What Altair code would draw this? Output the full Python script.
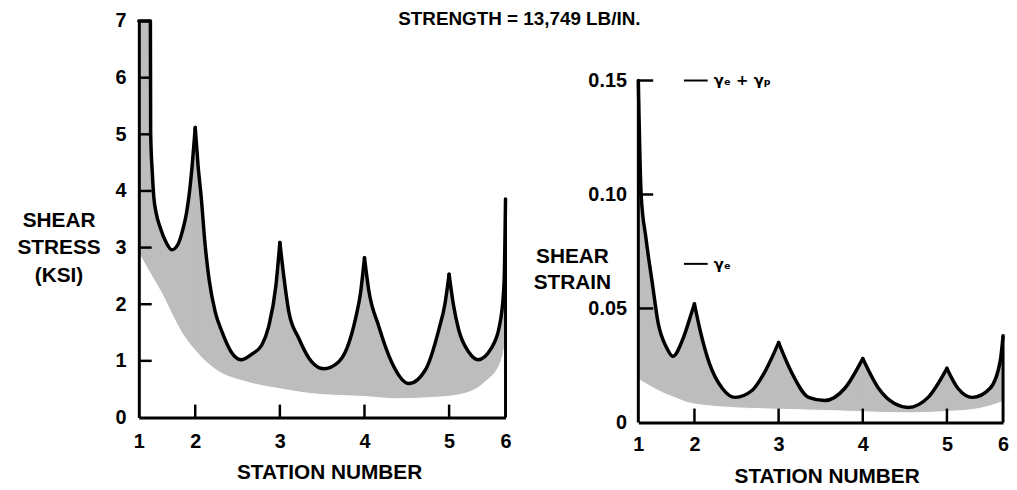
import altair as alt
import pandas as pd

# ---------------- data ----------------
STATION_POS = [0, 2, 5, 8, 11, 13]          # position along the x axis
STATION_LABELS = ["1", "2", "3", "4", "5", "6"]
INNER_STATIONS = [2, 5, 8, 11]

TITLE = "STRENGTH = 13,749 LB/IN."

# shear stress (ksi): upper curve and lower edge of the shaded band
stress_upper_x = [0, 0.41, 0.42, 0.48, 0.53, 0.62, 0.76, 0.97, 1.17, 1.38, 1.55, 1.69, 1.80, 1.90, 2.0,
                  2.1, 2.21, 2.35, 2.49, 2.71, 2.95, 3.27, 3.62, 4.01, 4.36, 4.6, 4.86, 5.0,
                  5.15, 5.32, 5.67, 6.13, 6.55, 7.08, 7.4, 7.68, 7.86, 8.0,
                  8.15, 8.5, 8.96, 9.57, 10.18, 10.64, 10.85, 11.0,
                  11.15, 11.34, 11.69, 12.03, 12.48, 12.83, 12.95, 13.0]
stress_upper_y = [7.0, 7.0, 5.02, 4.3, 3.9, 3.6, 3.35, 3.09, 2.96, 3.05, 3.3, 3.61, 4.0, 4.5, 5.12,
                  4.45, 3.9, 3.05, 2.44, 1.86, 1.51, 1.16, 1.02, 1.12, 1.28, 1.6, 2.33, 3.09,
                  2.45, 1.86, 1.40, 0.98, 0.86, 0.98, 1.25, 1.74, 2.2, 2.82,
                  2.25, 1.62, 0.98, 0.6, 0.86, 1.56, 2.0, 2.53,
                  2.0, 1.55, 1.16, 1.02, 1.21, 1.74, 2.4, 3.86]
stress_lower_x = [0, 0.4, 0.86, 1.2, 1.45, 2.04, 2.74, 3.8, 4.96, 6.13, 8.0, 9.2, 10.3, 11.34, 12.28, 12.83, 13.0]
stress_lower_y = [2.9, 2.55, 2.15, 1.8, 1.56, 1.16, 0.84, 0.63, 0.51, 0.42, 0.37, 0.33, 0.35, 0.40, 0.63, 0.98, 1.33]
STRESS_TICKS = [0, 1, 2, 3, 4, 5, 6, 7]

# shear strain
strain_upper_x = [0, 0.1, 0.27, 0.5, 0.7, 1.0, 1.23, 1.6, 1.87, 2.0,
                  2.21, 2.53, 2.99, 3.45, 4.05, 4.5, 5.0,
                  5.46, 6.07, 6.64, 7.36, 8.0,
                  8.56, 9.13, 9.62, 10.33, 11.0,
                  11.39, 11.91, 12.54, 12.9, 13.0]
strain_upper_y = [0.150, 0.100, 0.081, 0.061, 0.044, 0.033, 0.029, 0.037, 0.047, 0.052,
                  0.040, 0.026, 0.015, 0.011, 0.014, 0.022, 0.035,
                  0.022, 0.011, 0.0096, 0.015, 0.028,
                  0.015, 0.0083, 0.0066, 0.011, 0.0237,
                  0.015, 0.011, 0.015, 0.027, 0.038]
strain_lower_x = [0, 0.27, 0.7, 1.27, 1.83, 2.99, 5.0, 6.8, 9.7, 11.0, 12.1, 13.0]
strain_lower_y = [0.019, 0.017, 0.014, 0.011, 0.0085, 0.0068, 0.0058, 0.0052, 0.0042, 0.0048, 0.0060, 0.0092]
STRAIN_TICKS = [0, 0.05, 0.10, 0.15]

LEGEND_TEXTS = ["\u03b3\u2091 + \u03b3\u209a", "\u03b3\u2091"]

# ---------------- styling ----------------
FONT = "Liberation Sans, Arial, Helvetica, sans-serif"
FILL = "#bdbdbd"
LW = 3.5

x_label_expr = "[" + ",".join("'%s'" % s for s in STATION_LABELS) + "][indexof([" + \
    ",".join(str(p) for p in STATION_POS) + "], datum.value)]"


def split_arcs(xs, ys):
    """Group the upper curve into arcs between the cusps at the inner stations."""
    edges = [xs[0]] + INNER_STATIONS + [xs[-1]]
    rows = []
    for k in range(len(edges) - 1):
        for x, y in zip(xs, ys):
            if edges[k] <= x <= edges[k + 1]:
                rows.append({"seg": k, "u": x, "v": y})
    return pd.DataFrame(rows)


def panel(ux, uy, lx, ly, yticks, ydomain_max, width, height, ytitle, ytitle_x, ytitle_y,
          ytitle_lh, ylab_pad, ylabel_expr, show_ydomain, xtitle_x, xtitle_y, xlab_pad,
          ytick_len, xtick_len):
    X = alt.X("u:Q", scale=alt.Scale(domain=[STATION_POS[0], STATION_POS[-1]], nice=False, zero=False),
              axis=alt.Axis(values=STATION_POS, labelExpr=x_label_expr, title="STATION NUMBER",
                            ticks=False, tickSize=0, grid=False, labelFlush=False, labelOverlap=False,
                            labelPadding=xlab_pad, titleX=xtitle_x, titleY=xtitle_y,
                            titleBaseline="middle", titleAlign="center", zindex=1))
    yaxis_kw = dict(values=yticks, title=ytitle, titleAngle=0, titleAlign="center",
                    titleBaseline="middle", titleX=ytitle_x, titleY=ytitle_y,
                    titleLineHeight=ytitle_lh, ticks=False, tickSize=0, grid=False,
                    labelFlush=False, labelOverlap=False, labelPadding=ylab_pad,
                    domain=show_ydomain, zindex=1)
    if ylabel_expr:
        yaxis_kw["labelExpr"] = ylabel_expr
    Y = alt.Y("v:Q", scale=alt.Scale(domain=[0, ydomain_max], nice=False, zero=True),
              axis=alt.Axis(**yaxis_kw), stack=False)

    up = split_arcs(ux, uy)
    lo = pd.DataFrame({"u": lx, "v": ly})
    end = pd.DataFrame({"u": [ux[-1]], "v": [uy[-1]]})
    xt = pd.DataFrame({"u": INNER_STATIONS})
    yt = pd.DataFrame({"v": [t for t in yticks if t > 0]})

    band = alt.Chart(up).mark_area(fill=FILL, stroke=FILL, strokeWidth=1.2,
                                   interpolate="monotone").encode(x=X, y=Y, detail="seg:N")
    blank = alt.Chart(lo).mark_area(fill="white", stroke="white", strokeWidth=1,
                                    interpolate="monotone").encode(x=X, y=Y)
    line = alt.Chart(up).mark_line(color="black", strokeWidth=LW, strokeJoin="round",
                                   strokeCap="round", interpolate="monotone").encode(
        x=X, y=Y, detail="seg:N")
    endrule = alt.Chart(end).mark_rule(color="black", strokeWidth=3).encode(x=X, y=Y, y2=alt.datum(0))
    xticks = alt.Chart(xt).mark_rule(color="black", strokeWidth=2.5).encode(
        x=X, y=alt.value(height), y2=alt.value(height - xtick_len))
    yticks_l = alt.Chart(yt).mark_rule(color="black", strokeWidth=2.5).encode(
        y=Y, x=alt.value(0), x2=alt.value(ytick_len))
    layers = [band, blank, line, endrule, xticks, yticks_l]
    if not show_ydomain:
        dom = pd.DataFrame({"u": [STATION_POS[0]], "v": [max(yticks)]})
        layers.append(alt.Chart(dom).mark_rule(color="black", strokeWidth=3).encode(
            x=X, y=Y, y2=alt.datum(0)))
    return layers


left_layers = panel(stress_upper_x, stress_upper_y, stress_lower_x, stress_lower_y, STRESS_TICKS,
                    7, 370, 400, ["SHEAR", "STRESS", "(KSI)"], -81, 201, 28, 13, None, True,
                    192, 56, 14, 13, 13)
title_df = pd.DataFrame({"t": [TITLE]})
left_layers.append(alt.Chart(title_df).mark_text(font=FONT, fontWeight="bold", fontSize=19,
                                                 align="center", baseline="alphabetic").encode(
    text="t:N", x=alt.value(384), y=alt.value(4)))
left = alt.layer(*left_layers).properties(width=370, height=400)

strain_max = 0.15 * 405 / 345
right_layers = panel(strain_upper_x, strain_upper_y, strain_lower_x, strain_lower_y, STRAIN_TICKS,
                     strain_max, 368, 405, ["SHEAR", "STRAIN"], -67, 238, 26, 12,
                     "datum.value == 0 ? '0' : format(datum.value, '.2f')", False,
                     190, 55, 12, 15, 14)
leg_df = pd.DataFrame({"t": LEGEND_TEXTS, "py": [60, 245]})
right_layers.append(alt.Chart(leg_df).mark_rule(color="black", strokeWidth=2).encode(
    x=alt.value(46), x2=alt.value(70), y=alt.Y("py:Q", scale=None)))
right_layers.append(alt.Chart(leg_df).mark_text(font="DejaVu Sans, Liberation Sans", fontWeight="bold",
                                                fontSize=15, align="left", baseline="middle").encode(
    text="t:N", x=alt.value(76), y=alt.Y("py:Q", scale=None)))
right = alt.layer(*right_layers).properties(width=368, height=405)

chart = alt.hconcat(left, right, spacing=134, bounds="flush").properties(
    padding={"left": 8, "top": 0, "right": 0, "bottom": 0}
).configure_view(stroke=None).configure_axis(
    labelFont=FONT, labelFontWeight="bold", labelFontSize=20, labelColor="black",
    titleFont=FONT, titleFontWeight="bold", titleFontSize=21, titleColor="black",
    domainColor="black", domainWidth=3
)

chart.save("out.html", embed_options={"renderer": "svg", "actions": False})
